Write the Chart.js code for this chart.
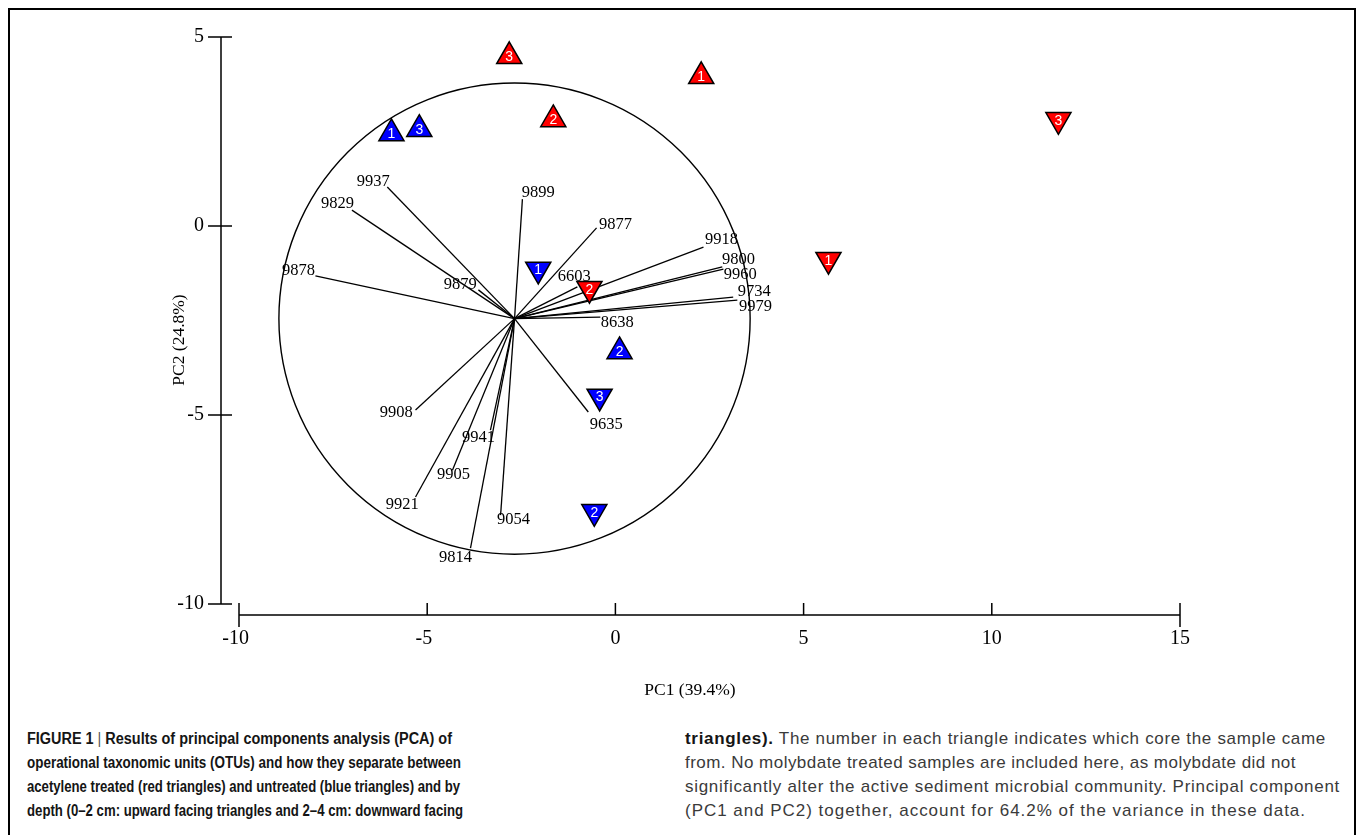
<!DOCTYPE html>
<html>
<head>
<meta charset="utf-8">
<script src="https://cdn.jsdelivr.net/npm/chart.js@4.4.1/dist/chart.umd.min.js"></script>
<style>
  html, body { margin: 0; padding: 0; background: #fff; }
  body { width: 1362px; height: 835px; position: relative; overflow: hidden; }
  #frame { position: absolute; left: 8px; top: 8px; width: 1348px; height: 860px; border: 2.5px solid #000; box-sizing: border-box; }
  #plot { position: absolute; left: 0; top: 0; width: 1362px; height: 720px; }
  .cap { position: absolute; font-family: "Liberation Sans", Arial, sans-serif; line-height: 24px; white-space: nowrap; top: 727px; }
  .cap div { width: max-content; transform-origin: left center; }
  #capL { left: 27px; font-weight: bold; font-size: 16px; color: #151515; }
  #capR { left: 685px; font-size: 17px; color: #3a3a3a; }
  #capR b { color: #151515; }
  .bar { font-weight: normal; color: #555; }
</style>
</head>
<body>
<div id="frame"></div>
<div id="plot"><canvas id="pca"></canvas></div>
<div class="cap" id="capL">
  <div data-w="425">FIGURE 1 <span class="bar">|</span> Results of principal components analysis (PCA) of</div>
  <div data-w="434">operational taxonomic units (OTUs) and how they separate between</div>
  <div data-w="433">acetylene treated (red triangles) and untreated (blue triangles) and by</div>
  <div data-w="436">depth (0–2 cm: upward facing triangles and 2–4 cm: downward facing</div>
</div>
<div class="cap" id="capR">
  <div data-w="641"><b>triangles).</b> The number in each triangle indicates which core the sample came</div>
  <div data-w="611">from. No molybdate treated samples are included here, as molybdate did not</div>
  <div data-w="655">significantly alter the active sediment microbial community. Principal component</div>
  <div data-w="621">(PC1 and PC2) together, account for 64.2% of the variance in these data.</div>
</div>
<script>
const xTicks = [-10, -5, 0, 5, 10, 15]
const yTicks = [-10, -5, 0, 5]
const xTitle = 'PC1 (39.4%)'
const yTitle = 'PC2 (24.8%)'

// sample scores, number = core
const redUpCore = ['1', '2', '3']
const redUpX = [2.28, -1.65, -2.82]
const redUpY = [3.96, 2.82, 4.49]
const redDownCore = ['1', '2', '3']
const redDownX = [5.66, -0.69, 11.77]
const redDownY = [-0.89, -1.66, 2.81]
const blueUpCore = ['1', '2', '3']
const blueUpX = [-5.95, 0.11, -5.21]
const blueUpY = [2.45, -3.32, 2.56]
const blueDownCore = ['1', '2', '3']
const blueDownX = [-2.05, -0.56, -0.42]
const blueDownY = [-1.15, -7.56, -4.51]

// OTU loadings (vectors drawn from the circle centre)
const otuNames = ['9937', '9829', '9878', '9879', '9899', '9877', '6603', '9918', '9800', '9960',
  '9734', '9979', '8638', '9635', '9908', '9941', '9905', '9921', '9054', '9814']
const otuX = [-6.06, -7.0, -7.97, -3.64, -2.47, -0.5, -1.01, 2.34, 2.84, 2.87,
  3.13, 3.24, -0.4, -0.72, -5.31, -3.32, -4.33, -5.31, -3.05, -3.85]
const otuY = [1.03, 0.42, -1.32, -1.69, 0.71, -0.05, -1.61, -0.56, -1.08, -1.14,
  -1.88, -1.96, -2.41, -4.92, -4.87, -5.4, -6.46, -7.17, -7.65, -8.52]
const otuLabelX = [-6.43, -7.38, -8.42, -4.12, -2.05, 0.0, -1.09, 2.82, 3.27, 3.32,
  3.69, 3.72, 0.05, -0.24, -5.82, -3.64, -4.3, -5.66, -2.71, -4.25]
const otuLabelY = [1.16, 0.58, -1.19, -1.56, 0.87, 0.03, -1.35, -0.37, -0.9, -1.3,
  -1.75, -2.14, -2.57, -5.26, -4.95, -5.61, -6.59, -7.38, -7.78, -8.78]
const centreX = -2.68
const centreY = -2.45
const circleR = 6.26

const serif = '"Liberation Serif", "Times New Roman", serif'

const pts = (xs, ys) => xs.map((x, i) => ({ x: x, y: ys[i] }))

const triangleSet = (label, xs, ys, cores, colour, down) => ({
  label: label,
  data: pts(xs, ys),
  cores: cores,
  pointStyle: 'triangle',
  rotation: down ? 180 : 0,
  pointRadius: 14.5,
  pointHoverRadius: 14.5,
  backgroundColor: colour,
  borderColor: '#000',
  borderWidth: 1.5,
  order: 0
})

const vectorSets = otuNames.map((name, i) => ({
  label: name,
  data: [{ x: centreX, y: centreY }, { x: otuX[i], y: otuY[i] }],
  showLine: true,
  borderColor: '#000',
  borderWidth: 1.3,
  pointRadius: 0,
  pointHoverRadius: 0,
  order: 5
}))

const pcaExtras = {
  id: 'pcaExtras',
  beforeDatasetsDraw(chart) {
    const { ctx, scales: { x, y } } = chart
    const cx = x.getPixelForValue(centreX)
    const cy = y.getPixelForValue(centreY)
    const r = x.getPixelForValue(centreX + circleR) - cx
    ctx.save()
    ctx.strokeStyle = '#000'
    ctx.lineWidth = 1.4
    ctx.beginPath()
    ctx.arc(cx, cy, r, 0, Math.PI * 2)
    ctx.stroke()
    ctx.fillStyle = '#000'
    ctx.font = '16.5px ' + serif
    ctx.textAlign = 'center'
    ctx.textBaseline = 'middle'
    otuNames.forEach((name, i) => {
      ctx.fillText(name, x.getPixelForValue(otuLabelX[i]), y.getPixelForValue(otuLabelY[i]))
    })
    ctx.restore()
  },
  afterDatasetsDraw(chart) {
    const { ctx } = chart
    ctx.save()
    ctx.fillStyle = '#fff'
    ctx.font = '14px "Liberation Sans", sans-serif'
    ctx.textAlign = 'center'
    ctx.textBaseline = 'middle'
    chart.data.datasets.forEach((ds, di) => {
      if (!ds.cores) return
      chart.getDatasetMeta(di).data.forEach((el, i) => {
        ctx.fillText(ds.cores[i], el.x, el.y + 1)
      })
    })
    ctx.restore()
  },
  afterDraw(chart) {
    const { ctx, chartArea, scales: { x, y } } = chart
    const axisX = chartArea.left - 18
    const axisY = chartArea.bottom + 11
    ctx.save()
    ctx.strokeStyle = '#000'
    ctx.lineWidth = 1.5
    ctx.fillStyle = '#000'
    // y axis
    ctx.beginPath()
    ctx.moveTo(axisX, y.getPixelForValue(yTicks[yTicks.length - 1]))
    ctx.lineTo(axisX, y.getPixelForValue(yTicks[0]))
    yTicks.forEach(t => {
      const py = y.getPixelForValue(t)
      ctx.moveTo(axisX - 13, py)
      ctx.lineTo(axisX + 11, py)
    })
    ctx.stroke()
    // x axis
    ctx.beginPath()
    ctx.moveTo(x.getPixelForValue(xTicks[0]), axisY)
    ctx.lineTo(x.getPixelForValue(xTicks[xTicks.length - 1]), axisY)
    xTicks.forEach((t, i) => {
      const px = x.getPixelForValue(t)
      const end = i === 0 || i === xTicks.length - 1
      ctx.moveTo(px, axisY - 12)
      ctx.lineTo(px, end ? axisY + 12 : axisY)
    })
    ctx.stroke()

    ctx.font = '20px ' + serif
    ctx.textBaseline = 'middle'
    ctx.textAlign = 'right'
    yTicks.forEach(t => ctx.fillText(String(t), axisX - 17, y.getPixelForValue(t)))
    ctx.textAlign = 'center'
    const dash = ctx.measureText('-').width
    xTicks.forEach(t => {
      const shift = t < 0 ? -dash / 2 : 0
      ctx.fillText(String(t), x.getPixelForValue(t) + shift, axisY + 24)
    })
    ctx.font = '17.5px ' + serif
    ctx.fillText(xTitle, 690, 690)
    ctx.translate(179, 340)
    ctx.rotate(-Math.PI / 2)
    ctx.fillText(yTitle, 0, 0)
    ctx.restore()
  }
}

new Chart(document.getElementById('pca'), {
  type: 'scatter',
  data: {
    datasets: [
      triangleSet('acetylene 0-2 cm', redUpX, redUpY, redUpCore, '#ff0000', false),
      triangleSet('acetylene 2-4 cm', redDownX, redDownY, redDownCore, '#ff0000', true),
      triangleSet('untreated 0-2 cm', blueUpX, blueUpY, blueUpCore, '#0000ff', false),
      triangleSet('untreated 2-4 cm', blueDownX, blueDownY, blueDownCore, '#0000ff', true),
      ...vectorSets
    ]
  },
  options: {
    responsive: true,
    maintainAspectRatio: false,
    animation: false,
    events: [],
    layout: {
      padding: { left: 239, right: 182, top: 37, bottom: 116 }
    },
    plugins: {
      legend: { display: false },
      tooltip: { enabled: false }
    },
    scales: {
      x: { type: 'linear', min: -10, max: 15, display: false },
      y: { type: 'linear', min: -10, max: 5, display: false }
    }
  },
  plugins: [pcaExtras]
})

// fit each caption line to the width it has in the printed figure
// (bold column is condensed, plain column is loosely spaced)
document.querySelectorAll('#capL div').forEach(line => {
  const w = line.getBoundingClientRect().width
  line.style.transform = 'scaleX(' + (Number(line.dataset.w) / w) + ')'
})
document.querySelectorAll('#capR div').forEach(line => {
  const w = line.getBoundingClientRect().width
  line.style.letterSpacing = ((Number(line.dataset.w) - w) / line.textContent.length) + 'px'
})
</script>
</body>
</html>
